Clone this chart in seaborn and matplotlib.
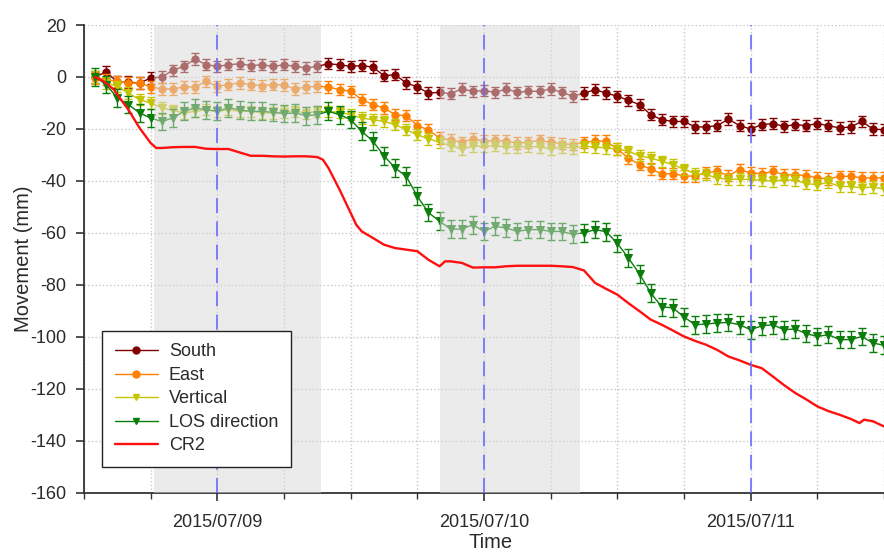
import numpy as np
import pandas as pd
import matplotlib
matplotlib.use("Agg")
import matplotlib.pyplot as plt
import matplotlib.dates as mdates
from matplotlib.lines import Line2D
import seaborn as sns

# ---- data (hourly, hours after 2015/07/08 12:00) ----
hours = np.arange(1, 73)

south = [0, 2, -2, -2, -2.3, -0.4, 0, 2.6, 4.1, 6.9, 4.7, 4.1, 4.7, 5.1, 4.4, 4.7, 4.1, 4.7,
         4.1, 3.5, 4.1, 5.1, 4.7, 4.1, 4.4, 3.8, 0.5, 0.9, -2.3, -3.8, -6.2, -5.9, -6.4, -4.6, -5.5, -5.2,
         -5.9, -4.6, -5.9, -5.5, -5.5, -4.6, -5.9, -7.4, -6.2, -4.9, -6.2, -7.4, -9.0, -10.6, -14.5, -16.4, -17.1, -17.1,
         -19.2, -19.2, -18.7, -16.2, -18.7, -20, -18.3, -17.9, -19.0, -18.3, -18.7, -17.9, -18.7, -19.6, -19.2, -17.1, -20, -20.3]

east = [-0.4, -1, -1.7, -2.3, -2.3, -3.8, -4.6, -4.6, -3.8, -3.8, -1.7, -3.6, -2.9, -2.3, -2.9, -3.3, -2.9, -3.1,
        -4.6, -3.8, -3.6, -3.8, -4.9, -5.5, -8.7, -10.6, -11.9, -14.5, -14.9, -18.7, -20.3, -23.5, -24.1, -25.1, -23.8, -24.7,
        -24.4, -24.7, -25.4, -25.1, -24.4, -25.1, -25.6, -26, -25.1, -24.7, -24.7, -27.7, -31.2, -33.7, -35.4, -37.2, -37.2, -38,
        -38.2, -36.7, -36.3, -37.9, -35.6, -36.9, -37.2, -36.3, -37.6, -37.6, -37.9, -38.8, -39.2, -38.2, -38.2, -38.8, -38.8, -38.8]

vertical = [0, -2.3, -3.6, -6.2, -8.7, -10, -11.9, -12.8, -13.8, -13.2, -12.6, -13.2, -12.6, -13.2, -13.2, -13.8, -13.8, -13.5,
            -13.2, -13.8, -13.2, -13.2, -13.6, -14.5, -15.8, -16.4, -17.1, -18.3, -20.3, -22.2, -23.8, -25.1, -26.4, -27.7, -26.7, -26.5,
            -26.4, -26.9, -26.9, -26.7, -26.9, -27.7, -26.9, -27.3, -26.7, -26.9, -27.3, -27.7, -28.6, -30.3, -31.2, -32.4, -33.7, -35.5,
            -37.2, -37.6, -38.8, -39.5, -39.2, -39.5, -39.7, -40.1, -39.5, -39.7, -41, -41.4, -40.5, -42.1, -42.1, -42.7, -42.3, -43.1]

los = [0, -2.9, -8.1, -10.6, -13.8, -15.8, -17.1, -15.8, -13.2, -11.9, -12.6, -13.2, -11.9, -12.6, -13.2, -13.2, -13.6, -14.1,
       -13.8, -14.9, -14.5, -13.2, -14.5, -16.4, -20.9, -24.7, -30.3, -35, -38.2, -45.9, -52.1, -55.5, -58.5, -58.5, -56.8, -59.4,
       -57.4, -58.1, -59.4, -58.7, -58.7, -59.4, -59.4, -60.5, -59.9, -58.7, -59.5, -64, -69.6, -75.8, -83, -88.4, -88.8, -92.3,
       -95.3, -95, -94.6, -94.4, -95.3, -97.2, -95.7, -95.3, -97.2, -96.9, -98.7, -99.8, -99.1, -101, -101, -99.8, -102.3, -103.2]

cr2_hours = [1, 1.8, 2.7, 3, 4, 5, 6, 6.5, 7, 8, 9, 10, 11, 12, 13, 14, 15, 16, 17, 18, 19, 20, 21, 21.5, 22, 23, 24,
             24.5, 25, 26, 27, 28, 29, 30, 31, 32, 32.5, 33, 34, 35, 36, 37, 38, 39, 40, 41, 42, 43, 44, 45, 46, 47,
             48, 49, 50, 51, 52, 53, 54, 55, 56, 57, 58, 59, 60, 61, 62, 63, 64, 65, 66, 67, 68, 69, 69.8, 70.2, 71, 72]
cr2_mm = [0, -1.7, -4.9, -6.8, -12.6, -19.6, -25.4, -27.3, -27.3, -27, -26.9, -26.9, -27.6, -27.7, -27.7, -29, -30.3,
          -30.3, -30.5, -30.6, -30.5, -30.5, -30.8, -31.8, -35, -43.3, -52.3, -56.8, -59.4, -61.9, -64.5, -65.8, -66.4,
          -67, -70.3, -72.8, -70.9, -70.9, -71.5, -73.3, -73.2, -73.2, -72.8, -72.6, -72.6, -72.6, -72.6, -72.8, -73.1,
          -74.4, -79.2, -81.5, -83.7, -87, -90.1, -93.3, -95.3, -97.5, -99.8, -101.5, -103, -105, -107.5, -109, -110.7,
          -112, -115.2, -118.5, -121.5, -124, -126.7, -128.5, -129.9, -131.5, -133.1, -131.8, -132.4, -134.4]

nights = [("2015-07-08 18:20", "2015-07-09 09:20"), ("2015-07-09 20:00", "2015-07-10 08:40")]
day_marks = ["2015-07-09", "2015-07-10", "2015-07-11"]

t0 = pd.Timestamp("2015-07-08 12:00")
times = t0 + pd.to_timedelta(hours, unit="h")
cr2_times = t0 + pd.to_timedelta(cr2_hours, unit="h")

sns.set_style("white")
plt.rcParams["font.family"] = ["Liberation Sans", "DejaVu Sans"]
plt.rcParams["axes.unicode_minus"] = False
txt = "#2a2a2a"

fig = plt.figure(figsize=(8.84, 5.53), dpi=100)
ax = fig.add_axes([84 / 884, 1 - 493 / 553, 800 / 884, 468 / 553])

series = [
    ("South", south, "#800000", "o", 2.2),
    ("East", east, "#ff7f00", "o", 2.2),
    ("Vertical", vertical, "#c4c400", "v", 2.2),
    ("LOS direction", los, "#0a7d0a", "v", 3.4),
]

for name, vals, col, mk, err in series:
    sns.lineplot(x=times, y=vals, color=col, marker=mk, markersize=5.2, markeredgecolor=col,
                 linewidth=1.0, ax=ax, zorder=2)
    ax.errorbar(times, vals, yerr=err, fmt="none", ecolor=col, elinewidth=1.0, capsize=3,
                capthick=1.0, zorder=2)

# night periods: translucent grey over the GPS points
for a, b in nights:
    ax.axvspan(pd.Timestamp(a), pd.Timestamp(b), color="#d8d8d8", alpha=0.5, lw=0, zorder=3)

sns.lineplot(x=cr2_times, y=cr2_mm, color="#ff1010", linewidth=1.7, ax=ax, zorder=4)

for d in day_marks:
    ax.axvline(pd.Timestamp(d), color="#6b6bff", lw=1.2, dashes=(9, 5), zorder=5)

ax.set_xlim(t0, t0 + pd.Timedelta(hours=72))
ax.set_ylim(-160, 20)
ax.set_yticks(np.arange(-160, 21, 20))
ax.xaxis.set_major_locator(mdates.DayLocator())
ax.xaxis.set_minor_locator(mdates.HourLocator(byhour=[6, 12, 18]))
ax.xaxis.set_major_formatter(mdates.DateFormatter("%Y/%m/%d"))

ax.grid(True, which="major", color="#c8c8c8", ls=":", lw=1.0)
ax.xaxis.grid(True, which="minor", color="#c8c8c8", ls=":", lw=1.0)
ax.set_axisbelow(True)

for s in ["top", "right"]:
    ax.spines[s].set_visible(False)
for s in ["left", "bottom"]:
    ax.spines[s].set_color("#333333")
    ax.spines[s].set_linewidth(1.3)

ax.tick_params(which="major", direction="out", length=6, width=1.2, color="#333333",
               labelsize=13, labelcolor=txt, bottom=True, left=True)
ax.tick_params(axis="y", which="major", pad=7)
ax.tick_params(axis="x", which="major", pad=9)
ax.tick_params(axis="x", which="minor", direction="out", length=4, width=1.0, color="#333333", bottom=True)

ax.set_xlabel("Time", fontsize=14.5, color=txt)
ax.set_ylabel("Movement (mm)", fontsize=14.5, color=txt)
ax.xaxis.set_label_coords(0.508, -0.086)
ax.yaxis.set_label_coords(-0.064, 0.5)

handles = [Line2D([0], [0], color=c, marker=m, markersize=5, lw=1.0) for _, _, c, m, _ in series]
handles.append(Line2D([0], [0], color="#ff1010", lw=1.7))
labels = [s[0] for s in series] + ["CR2"]
leg = ax.legend(handles, labels, loc="lower left", bbox_to_anchor=(0.0225, 0.0556), borderaxespad=0,
                frameon=True, fancybox=False, framealpha=1, edgecolor="#222222", fontsize=13,
                handlelength=2.4, labelspacing=0.36, handletextpad=0.6, borderpad=0.7)
leg.get_frame().set_linewidth(1.0)
leg.set_zorder(10)
for t in leg.get_texts():
    t.set_color(txt)

fig.savefig("out.png", dpi=100)
